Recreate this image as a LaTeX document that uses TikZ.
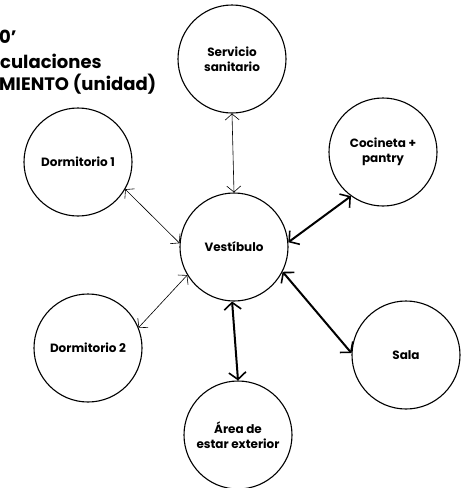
\documentclass[tikz,border=0pt]{standalone}
\usepackage{fontspec}
\setmainfont{Poppins}
\usetikzlibrary{arrows.meta}
\definecolor{dplink}{RGB}{0, 0, 0}

\begin{document}
\begin{tikzpicture}[x=1pt, y=-1pt,
    room/.style={draw, circle, line width=1.1pt, minimum size=108pt, inner sep=0pt,
                 align=center, font=\bfseries\fontsize{12}{15}\selectfont},
    lightlink/.style={line width=0.6pt, dplink,
                      {Straight Barb[length=6pt, width=14pt]}-{Straight Barb[length=6pt, width=14pt]}},
    heavylink/.style={line width=2pt, dplink,
                      {Straight Barb[length=7pt, width=17pt, line width=1.6pt]}-{Straight Barb[length=7pt, width=17pt, line width=1.6pt]}},
    titleline/.style={anchor=base west, inner sep=0pt, font=\bfseries\fontsize{18}{22}\selectfont}]

\useasboundingbox (0,0) rectangle (461,488);

% Título (cortado a la izquierda)
\node[titleline] (t1) at (-1,43) {0'};
\node[titleline] (t2) at (0,68) {culaciones};
\node[titleline] (t3) at (-1,90) {MIENTO (unidad)};

% Locales
\node[room] (vest)  at (234,247) {Vestíbulo};
\node[room] (serv)  at (232,59)  {Servicio\\sanitario};
\node[room] (dorm1) at (78,162)  {Dormitorio 1};
\node[room] (coc)   at (383,152) {Cocineta +\\pantry};
\node[room] (dorm2) at (88,348)  {Dormitorio 2};
\node[room] (sala)  at (406,355) {Sala};
\node[room] (area)  at (238,435) {Área de\\estar exterior};

% Circulaciones secundarias
\draw[lightlink] (serv.south) -- (vest.north);
\draw[lightlink] (dorm1.-30) -- (vest.176);
\draw[lightlink] (dorm2.22) -- (vest.211);

% Circulaciones principales
\draw[heavylink] (coc.234) -- (vest.5);
\draw[heavylink] (sala.178) -- (vest.-27);
\draw[heavylink] (vest.-92) -- (area.north);

\end{tikzpicture}
\end{document}
